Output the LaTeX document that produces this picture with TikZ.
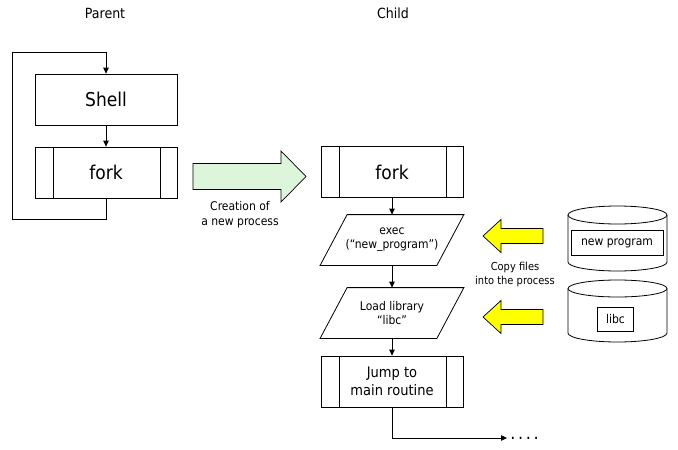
\documentclass[tikz,border=0pt]{standalone}
\usepackage{fontspec}
\setmainfont{DejaVu Sans}[FakeStretch=0.9]
\usetikzlibrary{arrows.meta,calc}
\definecolor{garrow}{RGB}{221,245,218}
\definecolor{yarrow}{RGB}{255,255,0}
\begin{document}
\begin{tikzpicture}[x=1pt,y=-1pt,line width=0.8pt,
  flow/.style={-{Triangle[length=6pt,width=5.5pt]}},
  plainbox/.style={draw,minimum width=142,minimum height=51,inner sep=0,align=center},
  subproc/.style={plainbox,path picture={
      \draw ([xshift=18pt]path picture bounding box.north west) -- ([xshift=18pt]path picture bounding box.south west);
      \draw ([xshift=-17pt]path picture bounding box.north east) -- ([xshift=-17pt]path picture bounding box.south east);}},
  para/.style={minimum width=116,minimum height=50,inner sep=0,align=center},
  big/.style={font=\fontsize{19}{22}\selectfont},
  head/.style={font=\fontsize{14}{16}\selectfont},
  small/.style={font=\fontsize{12}{14}\selectfont},
  note/.style={font=\fontsize{12}{15}\selectfont,align=center},
]
\useasboundingbox (0,0) rectangle (678,450);

% titles
\node[head] (parent) at (105,13) {Parent};
\node[head] (child) at (393,13) {Child};

% parent column
\node[plainbox,big] (shell) at (106,99.5) {Shell};
\node[subproc,big] (pfork) at (106,172.5) {fork};
\coordinate (lb) at (12,219);
\coordinate (lt) at (12,52);
\draw[flow] (shell) -- (pfork);
\draw[flow] (pfork.south) |- (lb) -- (lt) -| (shell.north);

% creation arrow
\draw[fill=garrow,line width=0.7pt] (193,163.5) -- (281,163.5) -- (281,151) -- (306,176.5) -- (281,202) -- (281,189.5) -- (193,189.5) -- cycle;
\node[note] (creation) at (240,214.5) {Creation of\\a new process};

% child column
\node[subproc,big] (cfork) at (392,172) {fork};
\node[para,small] (exec) at (392,240) {exec\\(“new\_program”)};
\node[para,small] (load) at (392,313) {Load library\\“libc”};
\node[subproc,font=\fontsize{14.5}{18}\selectfont] (jump) at (392,381.5) {Jump to\\main routine};
\foreach \n in {exec,load}{
  \draw ([xshift=-13.5pt]\n.south west) -- ([xshift=13.5pt]\n.north west)
     -- ([xshift=13.5pt]\n.north east) -- ([xshift=-13.5pt]\n.south east) -- cycle;
}
\draw[flow] (cfork) -- (exec);
\draw[flow] (exec) -- (load);
\draw[flow] (load) -- (jump);
\node[anchor=west,inner sep=3pt,font=\fontsize{18}{18}\selectfont] (dots) at (507,438) {.\kern2.6pt.\kern2.6pt.\kern2.6pt.};
\draw[flow] (jump.south) |- (dots.west);

% yellow arrows
\draw[fill=yarrow,line width=0.7pt] (543,228.5) -- (501,228.5) -- (501,219.5) -- (483,236) -- (501,252.5) -- (501,243.5) -- (543,243.5) -- cycle;
\draw[fill=yarrow,line width=0.7pt] (543,309.5) -- (501,309.5) -- (501,300.5) -- (483,317) -- (501,333.5) -- (501,324.5) -- (543,324.5) -- cycle;
\node[font=\fontsize{11}{14}\selectfont,align=center] (copy) at (515,274) {Copy files\\into the process};

% cylinders
\draw (568,215) -- (568,262) arc[start angle=180,end angle=0,x radius=49.5,y radius=9] -- (667,215);
\draw (617.5,215) ellipse[x radius=49.5,y radius=9];
\draw (568,288.5) -- (568,333) arc[start angle=180,end angle=0,x radius=49.5,y radius=9] -- (667,288.5);
\draw (617.5,288.5) ellipse[x radius=49.5,y radius=8.5];
\node[draw,minimum width=92,minimum height=25,inner sep=0,small] (newprog) at (617,243) {new program};
\node[draw,minimum width=36,minimum height=24,inner sep=0,small] (libc) at (615.5,319) {libc};
\end{tikzpicture}
\end{document}
